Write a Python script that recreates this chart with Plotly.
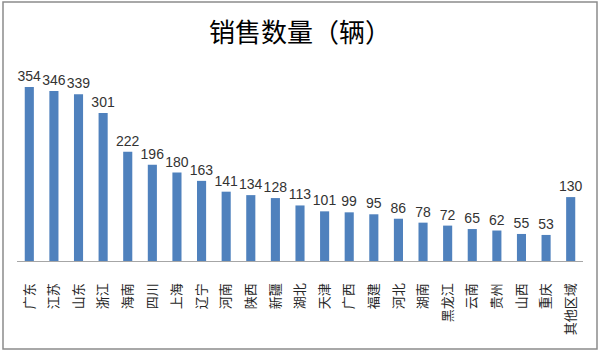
import plotly.graph_objects as go

categories = ["广东", "江苏", "山东", "浙江", "海南", "四川", "上海", "辽宁", "河南", "陕西",
              "新疆", "湖北", "天津", "广西", "福建", "河北", "湖南", "黑龙江", "云南", "贵州",
              "山西", "重庆", "其他区域"]
values = [354, 346, 339, 301, 222, 196, 180, 163, 141, 134, 128, 113, 101, 99, 95, 86, 78,
          72, 65, 62, 55, 53, 130]

fig = go.Figure()
fig.add_trace(go.Bar(
    x=categories, y=values,
    marker=dict(color="#4f81bd", line=dict(width=0)),
    text=[str(v) for v in values], textposition="outside",
    constraintext="none",
    textfont=dict(size=14, color="#333333", family="Liberation Sans"),
    cliponaxis=False,
))

L, R, T, B = 17, 17, 70, 91
W, H = 600, 352
pw = W - L - R
ph = H - T - B

fig.update_layout(
    width=W, height=H,
    margin=dict(l=L, r=R, t=T, b=B),
    paper_bgcolor="white", plot_bgcolor="white",
    bargap=0.63,
    showlegend=False,
    title=dict(text="销售数量（辆）", x=0.5, xanchor="center", y=1 - 33 / H, yanchor="middle",
               font=dict(size=26, color="#000000", family="Noto Sans CJK SC")),
    xaxis=dict(tickmode="array", tickvals=categories, ticktext=categories,
               showline=True, linecolor="#a6a6a6", linewidth=1, ticks="",
               tickfont=dict(size=13, color="#262626", family="Noto Sans CJK SC"),
               tickangle=-90, ticklabelstandoff=16, showgrid=False),
    yaxis=dict(range=[0, 388.5], visible=False, showgrid=False),
    shapes=[dict(type="rect", xref="paper", yref="paper",
                 x0=(3 - L) / pw, x1=(597 - L) / pw,
                 y0=-(349 - (H - B)) / ph, y1=1 + (T - 2) / ph,
                 line=dict(color="#8c8c8c", width=1.5), fillcolor="rgba(0,0,0,0)", layer="below")],
)

fig.write_html("out.html")
